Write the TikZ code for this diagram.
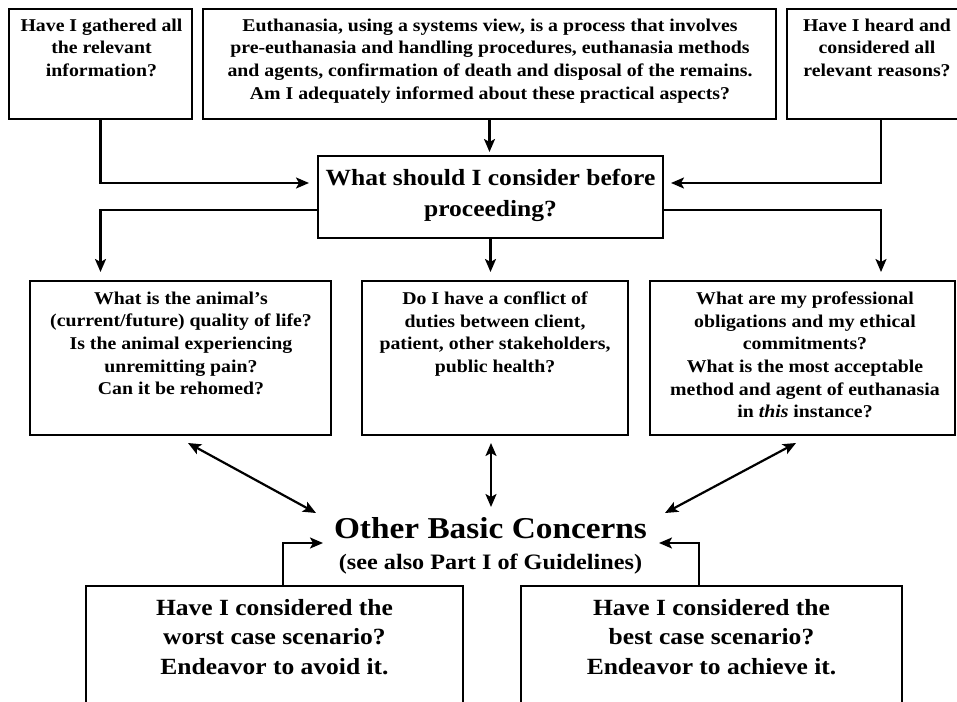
\documentclass[tikz,border=0pt]{standalone}
\usepackage{fontspec}
\setmainfont[FakeStretch=1.1]{Liberation Serif}
\usetikzlibrary{arrows.meta}
\begin{document}
\begin{tikzpicture}[x=1pt,y=-1pt,
  box/.style={draw, line width=2.6pt, inner sep=0pt, outer sep=0pt},
  tip/.tip={Stealth[length=13pt,width=11pt,inset=3pt]},
  arr/.style={line width=2.2pt, -tip},
  darr/.style={line width=2.2pt, tip-tip},
  txt/.style={align=center, inner sep=0pt, font=\bfseries\fontsize{18}{22.7}\selectfont},
  midtxt/.style={align=center, inner sep=0pt, font=\bfseries\fontsize{23.2}{31}\selectfont},
  bottxt/.style={align=center, inner sep=0pt, font=\bfseries\fontsize{23.2}{29.5}\selectfont},
  titletxt/.style={inner sep=0pt, font=\bfseries\fontsize{30.3}{34}\selectfont},
  subtxt/.style={inner sep=0pt, font=\bfseries\fontsize{22}{25}\selectfont}]
\useasboundingbox (0,0) rectangle (957,701);
\clip (0,0) rectangle (957,701);
\fill[white] (0,0) rectangle (957,701);

% boxes
\node[box, minimum width=183pt, minimum height=110pt] (b1) at (100.5,64) {};
\node[box, minimum width=573pt, minimum height=110pt] (b2) at (489.5,64) {};
\node[box, minimum width=188pt, minimum height=110pt] (b3) at (881,64) {};
\node[box, minimum width=345pt, minimum height=82pt] (cb) at (490.5,197) {};
\node[box, minimum width=301pt, minimum height=154pt] (m1) at (180.5,358) {};
\node[box, minimum width=266pt, minimum height=154pt] (m2) at (495,358) {};
\node[box, minimum width=305pt, minimum height=154pt] (m3) at (802.5,358) {};
\node[box, minimum width=377pt, minimum height=144pt] (w1) at (274.5,658) {};
\node[box, minimum width=381pt, minimum height=144pt] (w2) at (711.5,658) {};

% texts
\node[txt, anchor=north] (b1t) at (101.5,18.5) {Have I gathered all\\the relevant\\information?};
\node[txt, anchor=north] (b2t) at (490,18.5) {Euthanasia, using a systems view, is a process that involves\\pre-euthanasia and handling procedures, euthanasia methods\\and agents, confirmation of death and disposal of the remains.\\Am I adequately informed about these practical aspects?};
\node[txt, anchor=north] (b3t) at (877,18.5) {Have I heard and\\considered all\\relevant reasons?};
\node[midtxt, anchor=north] (cbt) at (490.5,169) {What should I consider before\\proceeding?};
\node[txt, anchor=north] (m1t) at (181,291.5) {What is the animal's\\(current/future) quality of life?\\Is the animal experiencing\\unremitting pain?\\Can it be rehomed?};
\node[txt, anchor=north] (m2t) at (495,291.5) {Do I have a conflict of\\duties between client,\\patient, other stakeholders,\\public health?};
\node[txt, anchor=north] (m3t) at (805,291.5) {What are my professional\\obligations and my ethical\\commitments?\\What is the most acceptable\\method and agent of euthanasia\\in \textit{this} instance?};
\node[bottxt, anchor=north] (w1t) at (274.5,599) {Have I considered the\\worst case scenario?\\Endeavor to avoid it.};
\node[bottxt, anchor=north] (w2t) at (711.5,599) {Have I considered the\\best case scenario?\\Endeavor to achieve it.};
\node[titletxt, anchor=base] (obc) at (490.5,538) {Other Basic Concerns};
\node[subtxt, anchor=base] (see) at (490.5,569) {(see also Part I of Guidelines)};

% connector end points
\coordinate (sl) at (188,443);
\coordinate (sm) at (491,443);
\coordinate (sr) at (796,443);
\coordinate (tl) at (316,513);
\coordinate (tm) at (491,507);
\coordinate (tr) at (665,513);
\coordinate (el) at (323,543);
\coordinate (er) at (659,543);

% connectors
\draw[arr, shorten >=9pt] (b1.south) |- ([yshift=14pt]cb.west);
\draw[arr, shorten >=4pt] (b2.south) -- (b2.south |- cb.north);
\draw[arr, shorten >=8pt] (b3.south) |- ([yshift=14pt]cb.east);
\draw[arr, shorten >=9pt] ([yshift=-13pt]cb.west) -| (b1.south |- m1.north);
\draw[arr, shorten >=9pt] (cb.south) -- (cb.south |- m2.north);
\draw[arr, shorten >=9pt] ([yshift=-13pt]cb.east) -| (b3.south |- m3.north);
\draw[darr] (sl) -- (tl);
\draw[darr] (sm) -- (tm);
\draw[darr] (sr) -- (tr);
\draw[arr] ([xshift=8.5pt]w1.north) |- (el);
\draw[arr] ([xshift=-12.5pt]w2.north) |- (er);
\end{tikzpicture}
\end{document}
